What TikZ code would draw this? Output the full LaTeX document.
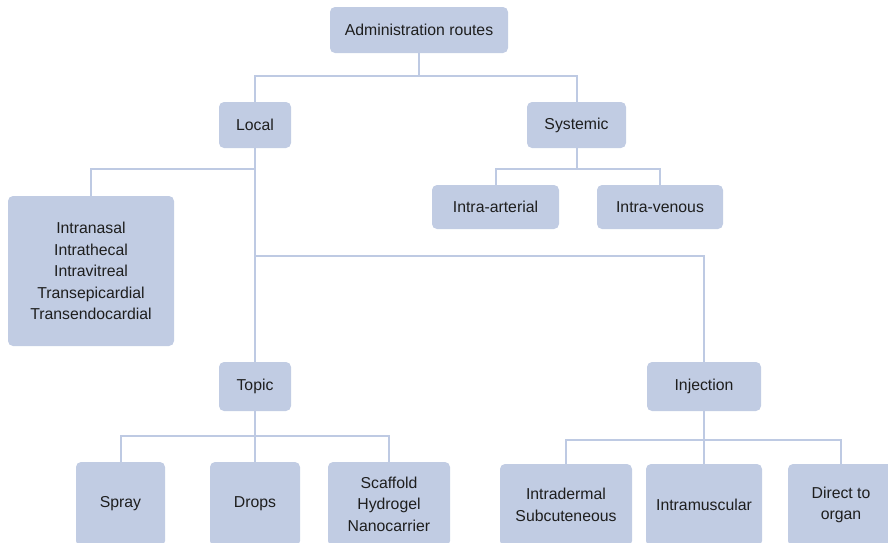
\documentclass[tikz,border=0pt]{standalone}
\usepackage{fontspec}
\setmainfont{Liberation Sans}
\definecolor{boxfill}{HTML}{C1CCE3}
\definecolor{linec}{HTML}{BECAE3}
\definecolor{txt}{HTML}{1E1E1E}
\begin{document}
\begin{tikzpicture}[x=1pt,y=-1pt,
  bx/.style={draw=none,fill=boxfill,rounded corners=5pt,inner sep=0pt,align=center,
    text=txt,font=\fontsize{15.8}{21.5}\selectfont},
  conn/.style={draw=linec,line width=2pt}]
\useasboundingbox (0,0) rectangle (888,542);
\node[bx,minimum width=178pt,minimum height=46pt] (root) at (419,30) {Administration routes};
\node[bx,minimum width=72pt,minimum height=46pt] (local) at (255,125) {Local};
\node[bx,minimum width=99pt,minimum height=46pt] (sys) at (576.5,125) {Systemic};
\node[bx,minimum width=166pt,minimum height=150pt] (intra) at (91,271) {Intranasal\\Intrathecal\\Intravitreal\\Transepicardial\\Transendocardial};
\node[bx,minimum width=127pt,minimum height=44pt] (art) at (495.5,207) {Intra-arterial};
\node[bx,minimum width=126pt,minimum height=44pt] (ven) at (660,207) {Intra-venous};
\node[bx,minimum width=72pt,minimum height=49pt] (topic) at (255,386.5) {Topic};
\node[bx,minimum width=114pt,minimum height=49pt] (inj) at (704,386.5) {Injection};
\node[bx,minimum width=89pt,minimum height=84pt] (spray) at (120.5,504) {Spray};
\node[bx,minimum width=90pt,minimum height=84pt] (drops) at (255,504) {Drops};
\node[bx,minimum width=122pt,minimum height=84pt] (scaf) at (389,504) {Scaffold\\Hydrogel\\Nanocarrier};
\node[bx,minimum width=132pt,minimum height=82pt] (derm) at (566,505) {Intradermal\\Subcuteneous};
\node[bx,minimum width=116pt,minimum height=82pt] (musc) at (704,505) {Intramuscular};
\node[bx,minimum width=106pt,minimum height=82pt] (organ) at (841,505) {Direct to\\organ};
% connectors
\draw[conn] (root.south) -- (root.south |- 0,76);
\draw[conn] (local.north) -- (local.north |- 0,76) -- (sys.north |- 0,76) -- (sys.north);
\draw[conn] (local.south) -- (topic.north);
\draw[conn] (local.south |- 0,169) -| (intra.north);
\draw[conn] (local.south |- 0,256) -| (inj.north);
\draw[conn] (sys.south) -- (sys.south |- 0,169);
\draw[conn] (art.north) -- (art.north |- 0,169) -- (ven.north |- 0,169) -- (ven.north);
\draw[conn] (topic.south) -- (topic.south |- 0,436);
\draw[conn] (spray.north) -- (spray.north |- 0,436) -- (scaf.north |- 0,436) -- (scaf.north);
\draw[conn] (topic.south |- 0,436) -- (drops.north);
\draw[conn] (inj.south) -- (musc.north);
\draw[conn] (derm.north) -- (derm.north |- 0,440) -- (organ.north |- 0,440) -- (organ.north);
\end{tikzpicture}
\end{document}
